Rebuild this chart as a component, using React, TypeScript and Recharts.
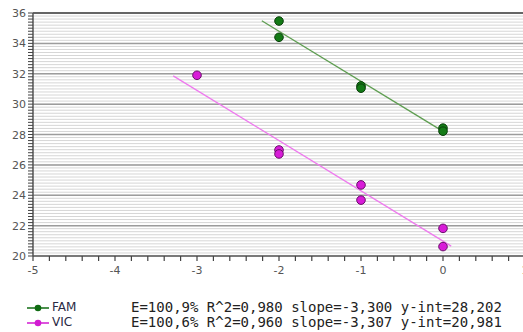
import React from 'react';
import {
  ScatterChart,
  Scatter,
  XAxis,
  YAxis,
  CartesianGrid,
  ReferenceLine,
} from 'recharts';

// x labels (log quantity) and y labels (Ct)
const xLabels = [-5, -4, -3, -2, -1, 0, 1];
const yLabels = [20, 22, 24, 26, 28, 30, 32, 34, 36];
const yMajorLines = [22, 24, 26, 28, 30, 32, 34];

// minor ticks every 0.2
const xMinor: number[] = [];
for (let i = 0; i <= 30; i++) xMinor.push(Math.round((-5 + i * 0.2) * 10) / 10);
const yMinor: number[] = [];
for (let i = 0; i <= 80; i++) yMinor.push(Math.round((20 + i * 0.2) * 10) / 10);

const famPoints = [
  { x: -2, y: 35.47 },
  { x: -2, y: 34.4 },
  { x: -1, y: 31.2 },
  { x: -1, y: 31.05 },
  { x: 0, y: 28.42 },
  { x: 0, y: 28.22 },
];
const vicPoints = [
  { x: -3, y: 31.9 },
  { x: -2, y: 26.98 },
  { x: -2, y: 26.72 },
  { x: -1, y: 24.68 },
  { x: -1, y: 23.68 },
  { x: 0, y: 21.82 },
  { x: 0, y: 20.62 },
];
// fitted standard curves
const famFit = [
  { x: -2.21, y: 35.49 },
  { x: -0.02, y: 28.27 },
];
const vicFit = [
  { x: -3.29, y: 31.86 },
  { x: 0.1, y: 20.65 },
];

const legendRows = [
  { name: 'FAM', color: '#0f6b12', stats: 'E=100,9% R^2=0,980 slope=-3,300 y-int=28,202' },
  { name: 'VIC', color: '#d21ad2', stats: 'E=100,6% R^2=0,960 slope=-3,307 y-int=20,981' },
];

const isLabel = (v: number, list: number[]) => list.some((l) => Math.abs(l - v) < 1e-6);

const XTick = (props: any) => {
  const { x, y, payload } = props;
  const v = payload.value;
  return (
    <g>
      <line x1={x} x2={x} y1={y} y2={y + 5} stroke="#444" strokeWidth={1.2} />
      {isLabel(v, xLabels) && (
        <text x={x} y={y + 18} textAnchor="middle" fontSize={11} fill="#555" fontFamily="DejaVu Sans">
          {v}
        </text>
      )}
    </g>
  );
};

const YTick = (props: any) => {
  const { x, y, payload } = props;
  const v = payload.value;
  return (
    <g>
      <line x1={x - 5} x2={x} y1={y} y2={y} stroke="#444" strokeWidth={1} />
      {isLabel(v, yLabels) && (
        <text x={x - 7} y={y + 4} textAnchor="end" fontSize={11} fill="#555" fontFamily="DejaVu Sans">
          {v}
        </text>
      )}
    </g>
  );
};

const dot = (fill: string, stroke: string) => (p: any) => (
  <circle cx={p.cx} cy={p.cy} r={4.3} fill={fill} stroke={stroke} strokeWidth={1} />
);

const App = () => {
  return (
    <div style={{ position: 'absolute', left: 0, top: 0, width: 523, height: 332, overflow: 'hidden', background: '#fff' }}>
      <ScatterChart width={540} height={290} margin={{ top: 13, right: 15, left: 0, bottom: 0 }}>
        <CartesianGrid vertical={false} stroke="#d6d6d6" strokeWidth={1} />
        {yMajorLines.map((v) => (
          <ReferenceLine key={v} y={v} stroke="#9c9c9c" strokeWidth={1.5} />
        ))}
        <ReferenceLine y={36} stroke="#666" strokeWidth={2} />
        <XAxis
          type="number"
          dataKey="x"
          domain={[-5, 1]}
          ticks={xMinor}
          interval={0}
          allowDataOverflow
          height={34}
          tickSize={0}
          tickMargin={0}
          tickLine={false}
          axisLine={{ stroke: '#555', strokeWidth: 1.5 }}
          tick={<XTick />}
        />
        <YAxis
          type="number"
          dataKey="y"
          domain={[20, 36]}
          ticks={yMinor}
          interval={0}
          allowDataOverflow
          width={33}
          tickSize={0}
          tickMargin={0}
          tickLine={false}
          axisLine={{ stroke: '#555', strokeWidth: 1.5 }}
          tick={<YTick />}
        />
        <Scatter data={famFit} line={{ stroke: '#5f9e52', strokeWidth: 1.3 }} shape={() => <g />} isAnimationActive={false} />
        <Scatter data={vicFit} line={{ stroke: '#ee7aee', strokeWidth: 1.3 }} shape={() => <g />} isAnimationActive={false} />
        <Scatter data={famPoints} shape={dot('#137a16', '#0a3f0b')} isAnimationActive={false} />
        <Scatter data={vicPoints} shape={dot('#d81cd8', '#6a0f6a')} isAnimationActive={false} />
      </ScatterChart>
      {legendRows.map((r, i) => (
        <div key={r.name} style={{ position: 'absolute', left: 0, top: 300 + i * 15, height: 15, width: 523 }}>
          <svg width={22} height={10} style={{ position: 'absolute', left: 27, top: 3 }}>
            <line x1={0} x2={22} y1={5} y2={5} stroke={r.color} strokeWidth={1.5} />
            <circle cx={11} cy={5} r={3.3} fill={r.color} />
          </svg>
          <span style={{ position: 'absolute', left: 52, top: 0, fontFamily: 'DejaVu Sans', fontSize: 12, color: '#2a2a44', lineHeight: '15px' }}>
            {r.name}
          </span>
          <span style={{ position: 'absolute', left: 131, top: 0, fontFamily: 'DejaVu Sans Mono', fontSize: 14, color: '#222', lineHeight: '15px', whiteSpace: 'pre' }}>
            {r.stats}
          </span>
        </div>
      ))}
    </div>
  );
};

export default App;
